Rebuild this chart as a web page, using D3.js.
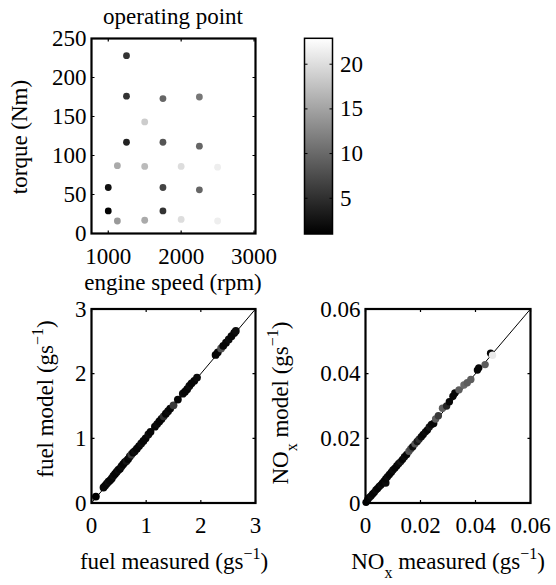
<!DOCTYPE html>
<html>
<head>
<meta charset="utf-8">
<script src="https://cdn.jsdelivr.net/npm/d3@7"></script>
<style>
body { margin: 0; background: #fff; }
svg text { font-family: "Liberation Serif", "Times New Roman", serif; font-size: 23px; fill: #000; }
</style>
</head>
<body>
<svg width="556" height="585"></svg>
<script>
// operating points (engine speed / torque / colour value)
var speed  = [1250, 1250, 1750, 2250, 1500, 1250, 1750, 2250, 1125, 1500, 2000, 2500, 1000, 1750, 2250, 1000, 1750, 1125, 1500, 2000, 2500];
var torque = [228, 176, 173, 175, 143, 117, 117, 112, 87, 86, 86, 85, 59, 59, 56, 29, 29, 16, 17, 18, 16];
var opValue = [5.4, 5.4, 9.8, 11.2, 18.5, 3.9, 8.3, 9.8, 15.6, 17.1, 20, 21.4, 2.5, 6.8, 9.8, 1.3, 5.4, 14.1, 15.6, 20, 21.4];

// fuel: measured vs model
var fuelMeasured = [0.08, 0.22, 0.25, 0.28, 0.31, 0.34, 0.37, 0.40, 0.43, 0.46, 0.49, 0.52, 0.55, 0.58, 0.61, 0.64, 0.67, 0.70, 0.73, 0.76, 0.79, 0.83, 0.87, 0.91, 0.95, 0.99, 1.04, 1.08, 1.16, 1.20, 1.24, 1.28, 1.32, 1.36, 1.40, 1.44, 1.50, 1.58, 1.67, 1.71, 1.75, 1.79, 1.83, 1.88, 1.93, 2.27, 2.31, 2.37, 2.41, 2.46, 2.51, 2.56, 2.61, 2.64];
var fuelModel    = [0.10, 0.24, 0.27, 0.30, 0.33, 0.35, 0.38, 0.42, 0.45, 0.48, 0.51, 0.53, 0.57, 0.60, 0.63, 0.65, 0.68, 0.72, 0.75, 0.78, 0.80, 0.84, 0.88, 0.92, 0.96, 1.00, 1.06, 1.10, 1.18, 1.22, 1.26, 1.30, 1.34, 1.38, 1.42, 1.46, 1.51, 1.60, 1.69, 1.72, 1.76, 1.81, 1.85, 1.89, 1.94, 2.29, 2.33, 2.39, 2.43, 2.48, 2.53, 2.58, 2.63, 2.66];
var fuelOp       = [1, 1.5, 1.5, 1.5, 2, 1.5, 1.5, 2, 1.5, 1.5, 2, 1.5, 2, 1.5, 1.5, 3, 1.5, 2, 6, 1.5, 2, 1.5, 1.5, 2, 1.5, 1.5, 2, 1.5, 1.5, 2, 1.5, 1.5, 5, 1.5, 2, 1.5, 6, 1.5, 2, 1.5, 1.5, 2, 1.5, 1.5, 2, 1.5, 1.5, 8, 1.5, 1.5, 2, 1.5, 1.5, 2];

// NOx: measured vs model
var noxMeasured = [0.0002, 0.0008, 0.0014, 0.0020, 0.0026, 0.0032, 0.0038, 0.0044, 0.0050, 0.0056, 0.0062, 0.0068, 0.0074, 0.0074, 0.0080, 0.0087, 0.0094, 0.0100, 0.0107, 0.0114, 0.0121, 0.0128, 0.0135, 0.0142, 0.0150, 0.0158, 0.0165, 0.0172, 0.0180, 0.0188, 0.0195, 0.0203, 0.0210, 0.0218, 0.0225, 0.0232, 0.0240, 0.0248, 0.0255, 0.0265, 0.0280, 0.0295, 0.0305, 0.0318, 0.0325, 0.0340, 0.0358, 0.0370, 0.0383, 0.0407, 0.0412, 0.0435, 0.0455, 0.0462];
var noxModel    = [0.0002, 0.0010, 0.0017, 0.0022, 0.0028, 0.0033, 0.0040, 0.0045, 0.0051, 0.0056, 0.0062, 0.0068, 0.0062, 0.0075, 0.0081, 0.0088, 0.0095, 0.0102, 0.0108, 0.0115, 0.0122, 0.0128, 0.0135, 0.0143, 0.0150, 0.0160, 0.0168, 0.0174, 0.0183, 0.0190, 0.0197, 0.0205, 0.0212, 0.0220, 0.0226, 0.0235, 0.0243, 0.0246, 0.0260, 0.0270, 0.0293, 0.0300, 0.0313, 0.0330, 0.0340, 0.0350, 0.0365, 0.0372, 0.0382, 0.0411, 0.0418, 0.0428, 0.0463, 0.0457];
var noxOp       = [1, 1.5, 1.5, 2, 1.5, 1.5, 2, 1.5, 1.5, 2, 1.5, 1.5, 2, 1.5, 2, 1.5, 1.5, 2, 1.5, 1.5, 2, 3, 1.5, 2, 1.5, 8, 7, 2, 8, 3, 5, 2, 1.5, 2, 1.5, 3, 2, 1.5, 9, 6, 9, 4, 1.5, 1.5, 1.5, 9, 10, 9, 9, 1.5, 1.5, 9, 1.5, 21];

var speedTicks  = [1000, 2000, 3000];
var torqueTicks = [0, 50, 100, 150, 200, 250];
var cbarTicks   = [5, 10, 15, 20];
var fuelTicks   = [0, 1, 2, 3];
var noxTicks    = [0, 0.02, 0.04, 0.06];
var noxTickLabels = ["0", "0.02", "0.04", "0.06"];

var svg = d3.select("svg");

var gray = d3.scaleLinear().domain([1, 22.9]).range(["#000", "#fff"]).clamp(true);

function frame(x, y, xt, yt, xfmt, yfmt) {
  var x0 = x.range()[0], x1 = x.range()[1],
      y0 = y.range()[0], y1 = y.range()[1];
  var g = svg.append("g");

  g.selectAll(".xt").data(xt).enter().append("path")
      .attr("d", function(d) {
        var px = x(d);
        return "M" + px + "," + y0 + "V" + (y0 - 3) + "M" + px + "," + y1 + "V" + (y1 + 3);
      })
      .attr("stroke", "#000").attr("stroke-width", 1.2);
  g.selectAll(".yt").data(yt).enter().append("path")
      .attr("d", function(d) {
        var py = y(d);
        return "M" + x0 + "," + py + "H" + (x0 + 3) + "M" + x1 + "," + py + "H" + (x1 - 3);
      })
      .attr("stroke", "#000").attr("stroke-width", 1.2);

  g.selectAll(".xl").data(xt).enter().append("text")
      .attr("x", function(d) { return x(d); })
      .attr("y", y0 + 30)
      .attr("text-anchor", "middle")
      .text(xfmt);
  g.selectAll(".yl").data(yt).enter().append("text")
      .attr("x", x0 - 5)
      .attr("y", function(d) { return y(d); })
      .attr("dy", "0.33em")
      .attr("text-anchor", "end")
      .text(yfmt);

  g.append("rect")
      .attr("x", x0).attr("y", y1)
      .attr("width", x1 - x0).attr("height", y0 - y1)
      .attr("fill", "none").attr("stroke", "#000").attr("stroke-width", 2.2);
}

// ---- operating point plot
var xs = d3.scaleLinear().domain([770, 3020]).range([91.5, 255.5]);
var ys = d3.scaleLinear().domain([0, 250]).range([233.5, 38.5]);

svg.append("g").selectAll("circle")
    .data(speed)
    .enter().append("circle")
      .attr("cx", function(d) { return xs(d); })
      .attr("cy", function(d, i) { return ys(torque[i]); })
      .attr("r", 3.4)
      .attr("fill", function(d, i) { return gray(opValue[i]); });

frame(xs, ys, speedTicks, torqueTicks, function(d) { return d; }, function(d) { return d; });

svg.append("text").attr("x", 173).attr("y", 24).attr("text-anchor", "middle").text("operating point");
svg.append("text").attr("x", 173).attr("y", 290).attr("text-anchor", "middle").text("engine speed (rpm)");
svg.append("text").attr("transform", "translate(27,137) rotate(-90)").attr("text-anchor", "middle").text("torque (Nm)");

// ---- colour bar
var cb = d3.scaleLinear().domain([1, 22.9]).range([234, 38.3]);
var grad = svg.append("defs").append("linearGradient")
    .attr("id", "cbar").attr("x1", 0).attr("y1", 1).attr("x2", 0).attr("y2", 0);
grad.append("stop").attr("offset", 0).attr("stop-color", "#000");
grad.append("stop").attr("offset", 1).attr("stop-color", "#fff");

svg.append("rect")
    .attr("x", 304.5).attr("y", cb(22.9))
    .attr("width", 28).attr("height", cb(1) - cb(22.9))
    .attr("fill", "url(#cbar)").attr("stroke", "#000").attr("stroke-width", 1.5);
svg.append("g").selectAll("path").data(cbarTicks).enter().append("path")
    .attr("d", function(d) { return "M304.5," + cb(d) + "H307.5M332.5," + cb(d) + "H329.5"; })
    .attr("stroke", "#000").attr("stroke-width", 1);
svg.append("g").selectAll("text").data(cbarTicks).enter().append("text")
    .attr("x", 340).attr("y", function(d) { return cb(d); }).attr("dy", "0.33em")
    .text(function(d) { return d; });

// ---- fuel plot
var xf = d3.scaleLinear().domain([0, 3]).range([91.5, 255.5]);
var yf = d3.scaleLinear().domain([0, 3]).range([503, 309]);

svg.append("line")
    .attr("x1", xf(0)).attr("y1", yf(0)).attr("x2", xf(3)).attr("y2", yf(3))
    .attr("stroke", "#000").attr("stroke-width", 1);
svg.append("g").selectAll("circle")
    .data(fuelMeasured)
    .enter().append("circle")
      .attr("cx", function(d) { return xf(d); })
      .attr("cy", function(d, i) { return yf(fuelModel[i]); })
      .attr("r", 3.9)
      .attr("fill", function(d, i) { return gray(fuelOp[i]); });

frame(xf, yf, fuelTicks, fuelTicks, function(d) { return d; }, function(d) { return d; });

var fx = svg.append("text").attr("x", 174).attr("y", 569).attr("text-anchor", "middle");
fx.append("tspan").text("fuel measured (gs");
fx.append("tspan").attr("dy", -10).style("font-size", "16px").text("\u22121");
fx.append("tspan").attr("dy", 10).text(")");

var fy = svg.append("text").attr("transform", "translate(53,399) rotate(-90)").attr("text-anchor", "middle");
fy.append("tspan").text("fuel model (gs");
fy.append("tspan").attr("dy", -10).style("font-size", "16px").text("\u22121");
fy.append("tspan").attr("dy", 10).text(")");

// ---- NOx plot
var xn = d3.scaleLinear().domain([0, 0.06]).range([365.5, 530.5]);
var yn = d3.scaleLinear().domain([0, 0.06]).range([503, 309]);

svg.append("line")
    .attr("x1", xn(0)).attr("y1", yn(0)).attr("x2", xn(0.06)).attr("y2", yn(0.06))
    .attr("stroke", "#000").attr("stroke-width", 1);
svg.append("g").selectAll("circle")
    .data(noxMeasured)
    .enter().append("circle")
      .attr("cx", function(d) { return xn(d); })
      .attr("cy", function(d, i) { return yn(noxModel[i]); })
      .attr("r", 3.7)
      .attr("fill", function(d, i) { return gray(noxOp[i]); });

frame(xn, yn, noxTicks, noxTicks,
      function(d, i) { return noxTickLabels[i]; },
      function(d, i) { return noxTickLabels[i]; });

var nx = svg.append("text").attr("x", 448).attr("y", 569).attr("text-anchor", "middle");
nx.append("tspan").text("NO");
nx.append("tspan").attr("dy", 9).style("font-size", "16px").text("x");
nx.append("tspan").attr("dy", -9).text(" measured (gs");
nx.append("tspan").attr("dy", -10).style("font-size", "16px").text("\u22121");
nx.append("tspan").attr("dy", 10).text(")");

var ny = svg.append("text").attr("transform", "translate(288,403) rotate(-90)").attr("text-anchor", "middle");
ny.append("tspan").text("NO");
ny.append("tspan").attr("dy", 9).style("font-size", "16px").text("x");
ny.append("tspan").attr("dy", -9).text(" model (gs");
ny.append("tspan").attr("dy", -10).style("font-size", "16px").text("\u22121");
ny.append("tspan").attr("dy", 10).text(")");
</script>
</body>
</html>
